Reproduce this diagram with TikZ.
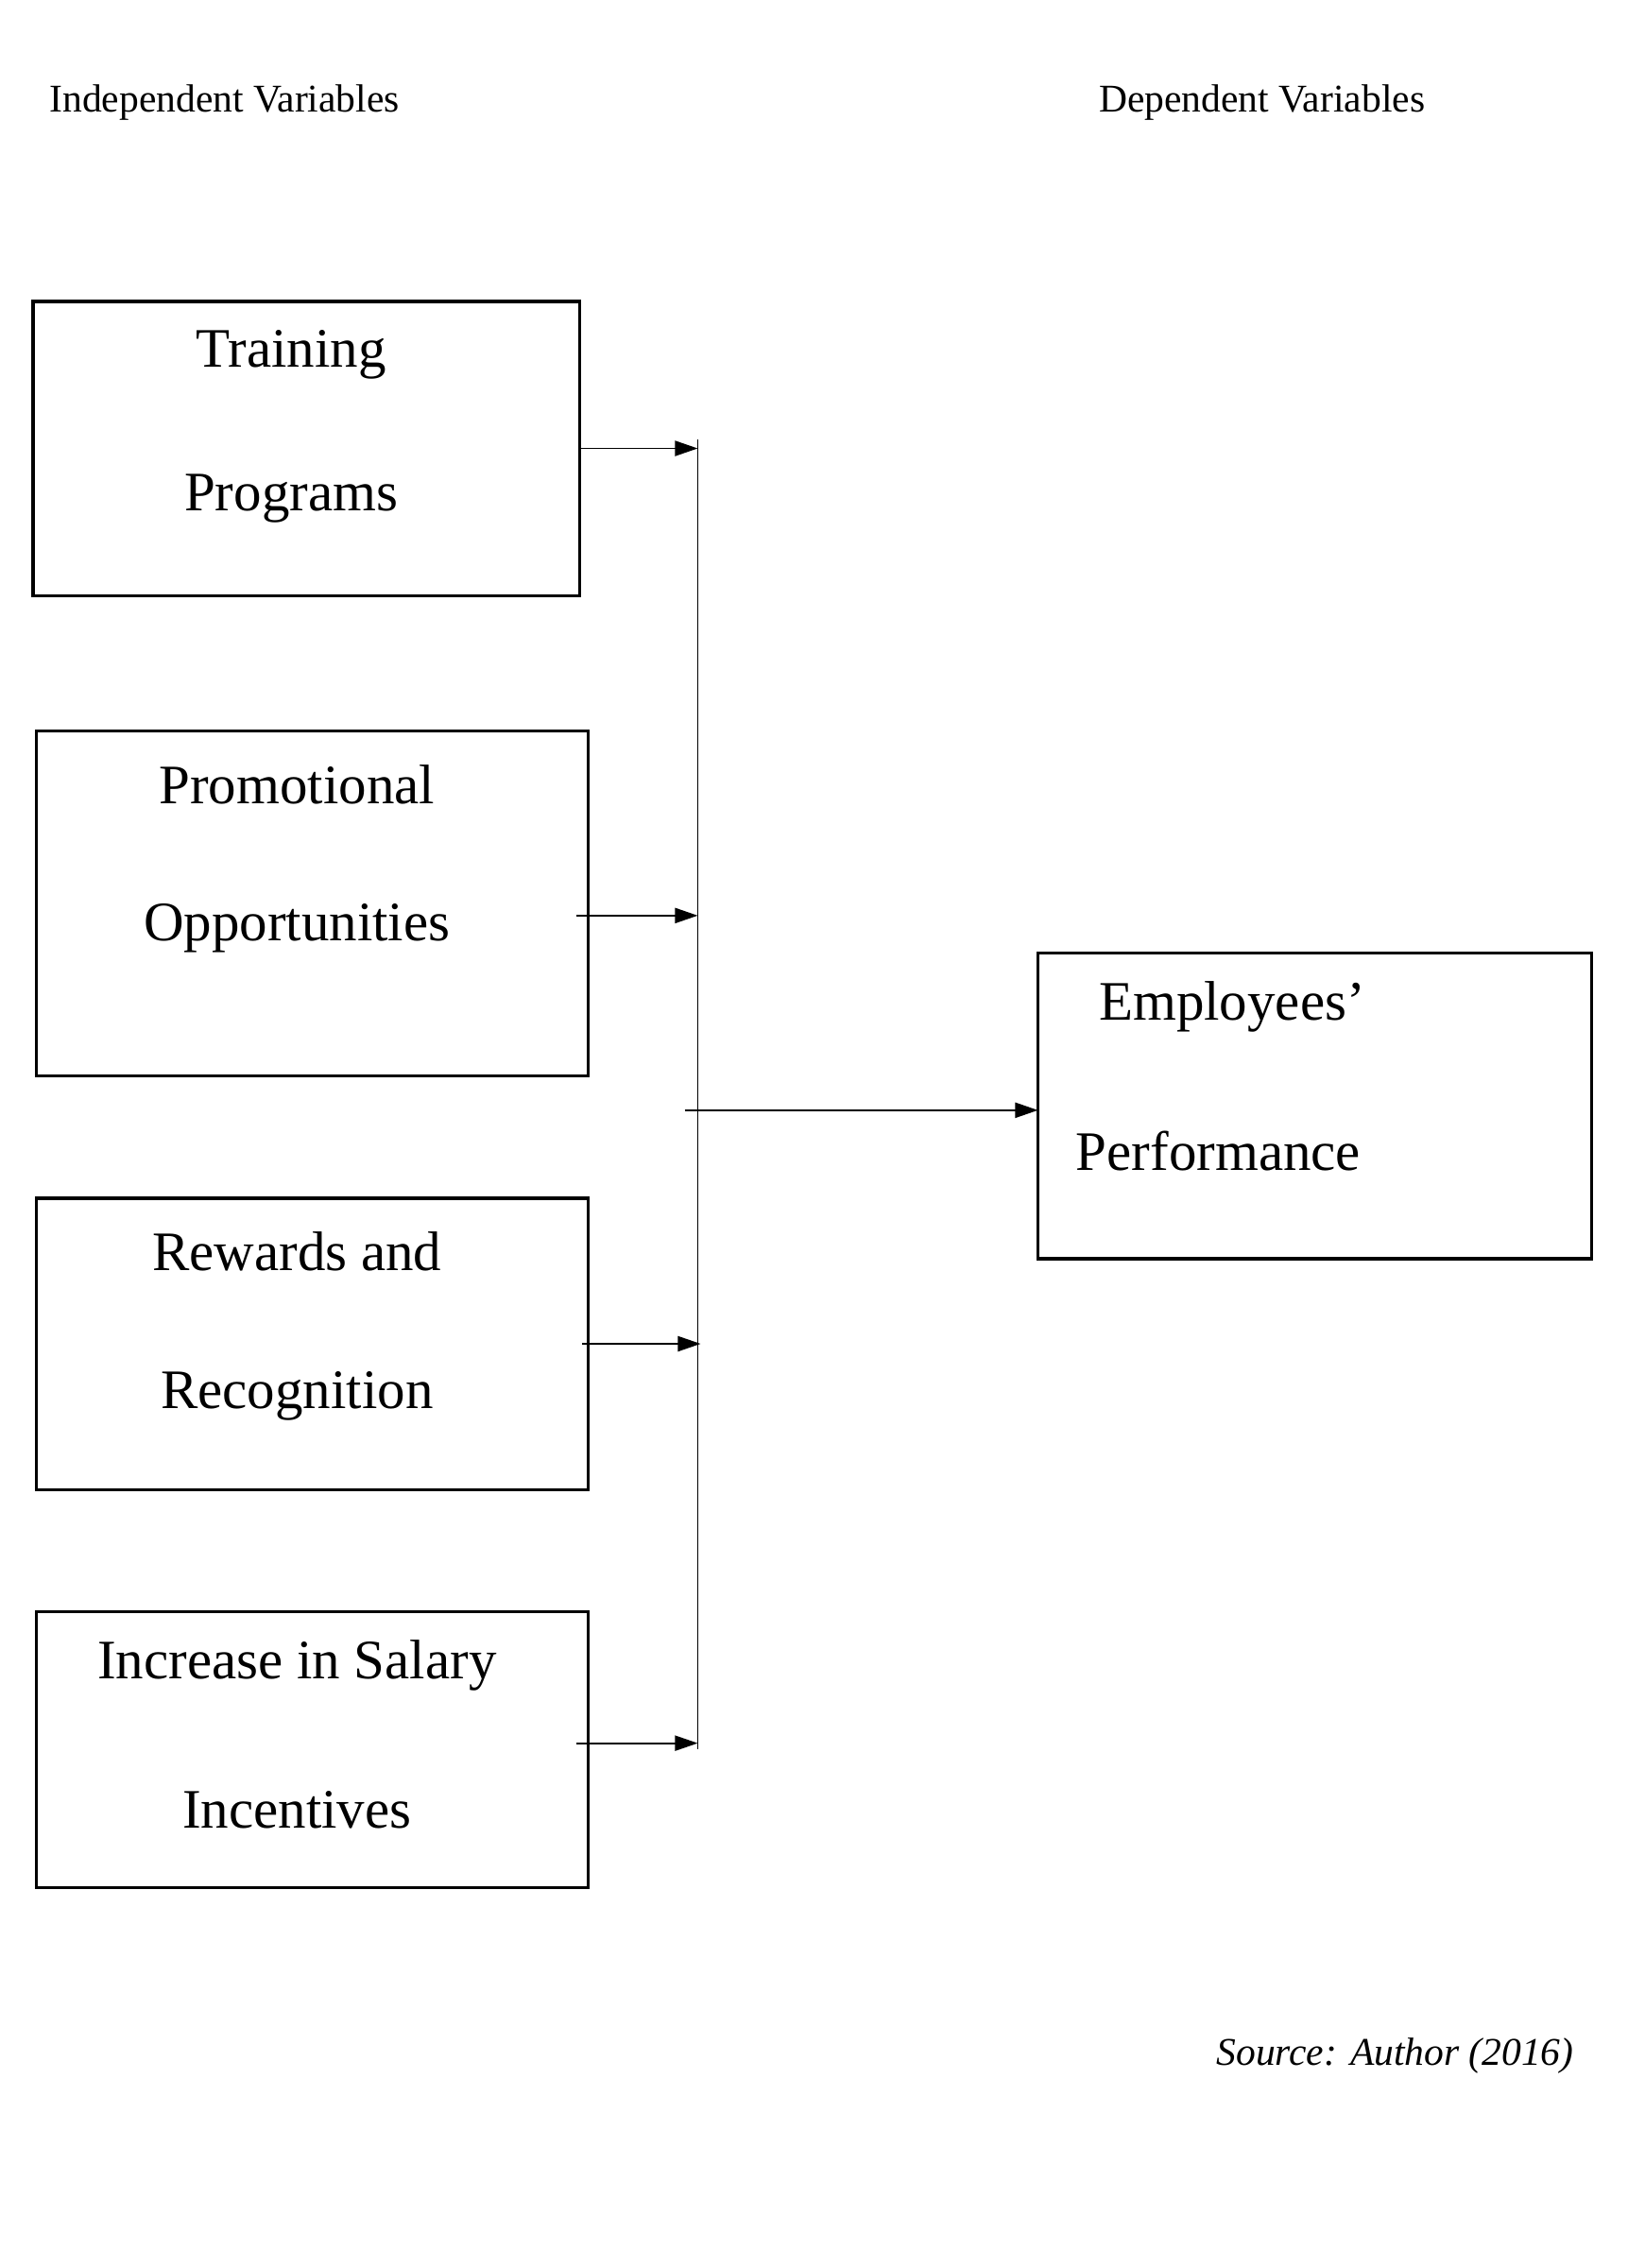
\documentclass[tikz,border=0pt]{standalone}
\usepackage{fontspec}
\setmainfont{Liberation Serif}
\usetikzlibrary{arrows.meta, positioning}

\tikzset{
	box/.style={draw, line width=1.2pt, inner sep=0pt},
	lbl/.style={inner sep=0pt, font=\fontsize{22}{26}\selectfont},
	head/.style={inner sep=0pt, anchor=west, font=\fontsize{15.5}{18}\selectfont},
	arr/.style={-{Triangle[length=9pt, width=6pt]}, line width=0.7pt}
}

\begin{document}
\begin{tikzpicture}[x=0.02cm, y=-0.02cm]
	\useasboundingbox (0,0) rectangle (1129,1573);

	\node[head] (indep) at (34,71) {Independent Variables};
	\node[head] (dep) at (762,71) {Dependent Variables};

	% boxes on the left
	\draw[box] (23,209) rectangle (402,413);
	\draw[box] (25,507) rectangle (408,746);
	\draw[box] (25,831) rectangle (408,1033);
	\draw[box] (25,1118) rectangle (408,1309);
	% box on the right
	\draw[box] (720,661) rectangle (1104,873);

	\node[lbl] (train1) at (202,246) {Training};
	\node[lbl] (train2) at (202,346) {Programs};
	\node[lbl] (promo1) at (206,544) {Promotional};
	\node[lbl] (promo2) at (206,644) {Opportunities};
	\node[lbl] (rew1) at (206,868) {Rewards and};
	\node[lbl] (rew2) at (206,968) {Recognition};
	\node[lbl] (sal1) at (206,1155) {Increase in Salary};
	\node[lbl] (sal2) at (206,1255) {Incentives};
	\node[lbl, anchor=west] (emp1) at (762,698) {Employees’};
	\node[lbl, anchor=west] (emp2) at (746,798) {Performance};

	\node[inner sep=0pt, anchor=east, font=\fontsize{15.5}{18}\selectfont\itshape] (src) at (1092,1426) {Source: Author (2016)};

	\coordinate (s1) at (402,311);  \coordinate (e1) at (484,311);
	\coordinate (s2) at (400,635);  \coordinate (e2) at (484,635);
	\coordinate (s3) at (404,932);  \coordinate (e3) at (486,932);
	\coordinate (s4) at (400,1209); \coordinate (e4) at (484,1209);
	\coordinate (top) at (484,305); \coordinate (bot) at (484,1213);
	\coordinate (sOut) at (475,770); \coordinate (eOut) at (720,770);

	\draw[line width=0.7pt] (top) -- (bot);
	\draw[arr] (s1) -- (e1);
	\draw[arr] (s2) -- (e2);
	\draw[arr] (s3) -- (e3);
	\draw[arr] (s4) -- (e4);
	\draw[arr] (sOut) -- (eOut);
\end{tikzpicture}
\end{document}
